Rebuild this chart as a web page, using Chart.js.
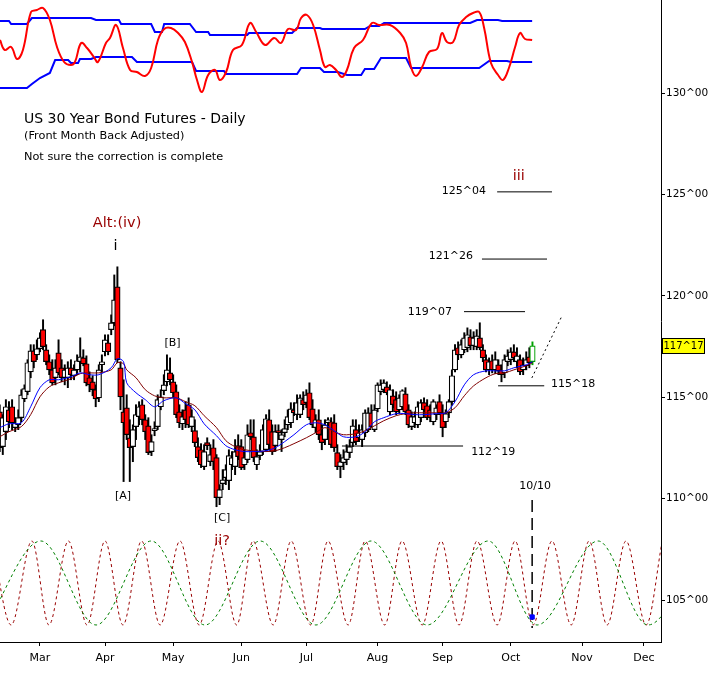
<!DOCTYPE html>
<html>
<head>
<meta charset="utf-8">
<title>US 30 Year Bond Futures - Daily</title>
<script src="https://cdn.jsdelivr.net/npm/chart.js@4.4.1/dist/chart.umd.min.js"></script>
<style>
  html, body { margin: 0; padding: 0; background: #fff; }
  canvas { display: block; }
</style>
</head>
<body>
<canvas id="bondChart" width="713" height="681"></canvas>
<script>
// x values are trading days (weekdays) counted from Mon 11 Feb
const firstDay = 2;

const opens = [
  114.28,112.56,113.30,114.38,114.53,113.50,113.64,113.99,114.92,115.27,
  116.25,117.29,117.09,117.39,118.33,117.34,116.75,116.35,115.96,117.19,
  116.45,115.96,115.96,116.45,116.06,116.35,116.75,116.94,116.65,115.96,
  115.76,115.37,114.97,116.60,117.24,117.68,118.33,118.67,120.44,116.45,
  114.28,114.48,113.00,112.56,113.55,114.04,114.63,113.89,113.59,112.32,
  113.35,113.55,114.53,115.32,115.76,116.20,115.76,115.27,114.28,113.69,
  114.38,114.63,113.55,113.35,112.56,112.41,111.58,112.76,111.82,112.51,
  112.02,110.05,110.74,111.03,110.89,111.67,111.58,112.61,112.56,111.67,
  111.92,113.25,113.05,111.67,112.12,112.32,112.41,113.89,113.30,112.61,
  113.35,112.91,113.25,113.64,113.74,114.38,114.14,114.14,114.88,114.73,
  115.22,114.43,113.50,113.89,113.15,112.91,113.74,113.79,113.74,112.27,
  111.58,111.77,111.92,112.27,112.76,113.40,113.00,112.91,113.25,113.40,
  114.23,113.40,114.43,115.27,115.37,115.51,114.28,115.07,114.88,114.38,
  114.53,115.17,114.38,113.55,113.74,113.64,113.99,114.73,114.58,114.38,
  113.79,114.14,114.78,114.23,113.79,114.23,114.78,116.35,117.44,117.09,
  117.34,117.44,117.98,117.54,117.49,117.93,117.34,116.85,116.35,116.80,
  116.35,116.60,116.35,116.20,116.75,116.85,117.24,116.75,116.85,116.35,
  116.55,116.99,116.75
];
const highs = [
  114.63,114.14,114.88,114.78,114.88,113.99,114.38,115.37,115.61,116.85,
  117.59,117.59,117.83,118.18,118.82,117.59,117.09,116.85,116.85,117.83,
  116.85,116.60,116.75,116.85,116.60,117.09,117.93,117.34,117.04,116.25,
  116.06,115.61,116.60,117.09,118.08,118.08,119.06,121.03,121.43,116.75,
  115.86,115.12,113.89,113.64,114.63,114.78,114.88,114.14,113.99,113.15,
  113.79,115.12,115.37,116.11,117.09,116.94,116.11,115.61,114.63,114.38,
  114.78,114.97,114.38,113.89,113.00,112.71,112.66,113.00,112.66,112.91,
  112.17,110.69,111.43,111.67,112.41,112.32,112.91,113.15,112.91,112.41,
  113.64,113.89,113.89,112.41,112.66,113.64,114.14,114.38,113.64,113.64,
  113.64,113.40,113.89,114.38,114.73,114.73,115.12,115.12,115.27,115.37,
  115.71,114.88,114.14,114.38,113.64,113.89,113.99,113.99,114.14,112.66,
  112.17,112.41,112.66,112.91,113.89,113.89,113.64,113.64,114.38,114.48,
  114.63,114.63,115.71,115.86,115.86,115.76,115.61,115.37,115.27,115.12,
  115.37,115.47,114.63,114.28,114.28,114.78,114.88,114.97,114.88,114.63,
  114.88,114.63,115.12,114.63,114.38,114.88,116.35,117.59,117.73,117.83,
  118.18,118.42,118.33,118.23,118.33,118.67,117.59,117.09,116.94,117.09,
  117.24,116.85,116.60,117.09,117.34,117.44,117.59,117.44,117.09,116.94,
  117.24,117.44,117.73
];
const lows = [
  112.32,112.17,112.91,113.50,113.40,113.30,113.40,113.79,114.78,115.12,
  115.96,116.45,116.85,117.24,117.34,116.60,116.11,115.61,115.61,116.11,
  115.76,115.61,115.47,115.86,115.86,116.11,116.25,116.55,115.56,115.27,
  115.07,114.53,114.78,116.25,117.04,117.09,118.08,118.52,116.70,114.38,
  110.84,112.91,110.84,111.82,112.91,113.64,113.64,112.91,112.17,112.12,
  113.10,113.40,114.38,115.12,115.56,115.61,114.97,113.99,113.50,113.40,
  113.50,113.50,113.30,112.56,111.82,111.53,111.43,112.41,111.62,111.43,
  109.60,109.70,110.44,110.69,110.44,111.43,111.18,111.92,111.43,111.43,
  111.77,112.91,111.82,111.43,111.92,112.17,112.32,112.41,112.17,112.32,
  112.91,112.32,113.05,113.40,113.50,114.09,113.89,113.99,114.38,114.48,
  113.89,113.50,113.25,112.91,112.41,112.66,113.50,112.51,112.32,111.43,
  111.03,111.43,111.67,112.02,112.56,112.66,112.81,112.56,113.05,113.30,
  113.50,113.30,114.28,115.12,115.22,115.12,114.14,114.48,114.14,114.19,
  114.38,114.14,113.50,113.40,113.50,113.50,113.79,114.28,113.89,113.79,
  113.64,113.89,114.14,113.05,113.50,113.99,114.63,116.25,116.85,116.94,
  117.19,117.24,117.34,117.34,117.34,117.34,116.75,116.25,116.11,116.20,
  116.16,116.11,115.76,115.96,116.55,116.60,116.75,116.45,116.11,116.11,
  116.35,116.45,116.60
];
const closes = [
  112.51,113.99,114.53,113.79,113.74,113.74,113.99,115.12,115.42,116.70,
  117.29,116.75,117.39,117.93,117.49,116.75,116.35,115.71,116.45,116.20,
  115.96,116.35,116.45,116.11,116.35,116.80,116.99,116.65,115.71,115.61,
  115.37,114.92,116.35,116.75,117.83,117.24,118.67,119.80,116.85,115.02,
  113.74,113.15,112.51,113.40,114.14,114.53,113.89,113.30,112.27,112.81,
  113.45,114.88,115.02,115.61,116.35,115.86,115.22,114.14,113.74,114.04,
  113.89,113.64,114.04,112.76,112.02,111.67,112.32,112.61,112.17,111.82,
  110.05,110.44,110.93,111.43,112.12,112.02,112.32,112.07,111.53,112.02,
  113.15,113.05,112.02,112.07,112.32,113.40,113.94,112.66,112.32,113.30,
  113.25,113.15,113.45,114.04,114.43,114.23,114.73,114.97,114.63,115.12,
  113.99,113.64,113.89,113.15,112.76,113.64,113.89,112.66,112.51,111.58,
  111.82,112.02,112.32,112.56,113.59,112.81,113.25,113.40,114.23,114.23,
  113.55,114.38,115.61,115.61,115.71,115.22,115.37,114.63,114.28,114.97,
  115.32,114.28,113.64,114.04,114.04,114.53,114.73,114.38,113.99,113.99,
  114.78,114.48,114.23,113.50,114.19,114.78,116.06,117.34,117.09,117.59,
  117.93,118.08,117.54,117.93,118.03,117.44,116.94,116.35,116.75,116.35,
  116.85,116.30,116.11,116.85,117.04,117.24,116.94,117.04,116.25,116.60,
  116.85,116.70,117.53
];

// moving averages
const maDays = [2,5,9,12,15,18,21,25,28,31,34,38,40,42,43,46,49,52,55,59,
  62,65,68,72,75,78,81,84,88,91,94,97,101,104,107,110,113,117,120,123,
  126,130,133,136,139,143,146,149,152,155,159,162,165,168,172,174];
const maFast = [113.50,113.69,113.74,114.53,115.47,115.86,115.86,116.01,116.20,116.11,
  116.11,116.45,116.90,116.75,115.71,115.22,114.88,114.53,114.83,114.97,
  114.68,114.38,113.69,113.10,112.61,112.41,112.32,112.32,112.36,112.51,
  112.81,113.15,113.64,113.74,113.64,113.35,113.05,113.05,113.30,113.79,
  113.99,114.19,114.19,114.14,114.14,114.19,114.23,114.78,115.61,116.11,
  116.30,116.30,116.30,116.45,116.60,116.75];
const maSlow = [113.05,113.30,113.55,114.14,115.02,115.51,115.71,115.91,116.16,116.20,
  116.20,116.35,116.70,116.65,116.35,115.96,115.37,115.07,114.97,114.97,
  114.78,114.58,114.09,113.50,112.86,112.56,112.41,112.36,112.32,112.36,
  112.51,112.71,113.00,113.25,113.50,113.30,113.15,113.20,113.35,113.59,
  113.84,114.09,114.19,114.23,114.23,114.23,114.23,114.48,115.07,115.56,
  115.96,116.16,116.20,116.35,116.55,116.70];

// oscillator panel (top)
const oscDays = [2.1,3.6,5.7,7.6,9.5,12.1,14.0,16.0,18.2,20.5,
  22.8,25.0,26.3,28.3,30.2,32.4,33.7,36.3,37.6,39.6,
  41.8,44.1,46.3,48.9,50.9,53.1,55.1,57.3,59.6,61.8,
  64.1,65.7,67.3,69.3,71.5,73.1,75.1,77.3,80.2,82.8,
  84.8,87.7,90.6,92.8,95.1,97.7,99.3,101.2,103.2,105.4,
  107.0,108.6,110.6,112.5,114.1,116.4,119.3,122.2,124.5,128.0,
  131.3,133.2,134.8,136.4,138.4,140.6,143.2,144.8,146.4,148.4,
  150.3,152.6,154.8,156.8,158.4,160.6,162.9,164.5,166.4,168.4,
  170.0,171.6,173.9];
const oscValues = [60,50,53,41,50,88,90,92,80,53,
  38,35,38,57,52,43,38,57,62,75,
  52,30,28,24,32,60,71,72,67,58,
  38,20,8,25,30,20,28,50,55,77,
  68,55,62,57,71,70,82,85,75,50,
  33,35,30,23,30,52,60,77,75,75,
  67,57,33,24,33,48,51,67,58,58,
  75,83,87,88,72,37,25,20,32,53,
  67,61,60];
const upperDays = [2.1,5.0,5.7,10.8,12.4,31.5,33.1,40.5,41.2,50.9,52.1,54.4,55.1,63.4,65.4,69.3,
  69.9,81.9,82.5,96.4,98.0,105.4,106.1,119.9,121.6,124.5,126.1,153.9,156.1,162.9,164.2,173.9];
const upperBand = [79,79,76,76,82,82,80,80,76,76,68,68,76,76,68,68,
  65,65,67,67,72,72,71,71,74,74,77,77,80,80,79,79];
const lowerDays = [2.1,10.8,12.4,15.0,18.2,19.9,24.1,25.0,27.3,27.9,31.5,33.1,44.7,46.3,64.1,65.4,74.4,75.1,
  98.0,99.3,105.4,106.7,111.2,114.1,118.7,119.9,122.9,125.1,133.2,134.8,156.8,160.0,165.8,167.1,173.9];
const lowerBand = [12,12,16,22,27,40,40,37,37,41,41,43,43,38,38,29,29,26,
  26,32,32,28,28,25,25,31,31,42,42,32,32,39,39,38,38];

// cycle panel (bottom): turning points
const fastCycleDays = [-0.5,5.7,12.4,17.9,24.2,30.2,36.0,41.8,47.8,53.8,60.2,66.4,72.5,78.5,83.8,90.3,
  96.1,102.4,108.0,114.5,120.0,126.3,131.9,138.4,144.5,150.3,156.1,162.6,168.4,174.2,180.3,186.5,
  192.3,198.1,204.2,210.7,215.9];
const fastCycle = [1,-1,1,-1,1,-1,1,-1,1,-1,1,-1,1,-1,1,-1,1,-1,1,-1,1,-1,1,-1,1,-1,1,-1,1,-1,1,-1,1,-1,1,-1,1];
const slowCycleDays = [-2.4,15.3,33.1,50.9,68.3,86.1,104.1,121.9,140.0,159.7,175.5,195.2,211.3,229.1];
const slowCycle = [-1,1,-1,1,-1,1,-1,1,-1,1,-1,1,-1,1];

// price targets
const levelPrices = [125.125, 121.8125, 119.21875, 115.5625, 112.59375];
const levelFrom = [162.6, 157.7, 151.9, 162.9, 112.5];
const levelTo = [180.3, 178.7, 171.6, 177.8, 151.6];
const projDays = [173.8, 183.5];
const projPrices = [115.95, 119.00];
const markerDay = 173.9;
const markerPrices = [109.93, 103.62];
const markerCycle = -0.81;

const monthDays = [15, 36, 58, 80, 101, 124, 145, 167, 190, 210];
const monthNames = ['Mar', 'Apr', 'May', 'Jun', 'Jul', 'Aug', 'Sep', 'Oct', 'Nov', 'Dec'];
const priceTicks = [105, 110, 115, 120, 125, 130];

function fmt32(v) {
  const whole = Math.floor(v);
  const t = Math.round((v - whole) * 32);
  return whole + '^' + String(t).padStart(2, '0');
}
function pts(xs, ys) {
  return xs.map((x, i) => ({ x: x, y: ys[i] }));
}

const notes = [
  ['US 30 Year Bond Futures - Daily', 9.85, 128.70, 'title'],
  ['(Front Month Back Adjusted)', 9.85, 127.88, 'sub'],
  ['Not sure the correction is complete', 9.85, 126.85, 'sub'],
  ['Alt:(iv)', 39.9, 123.59, 'wave'],
  ['i', 39.4, 122.42, 'waveBlack'],
  ['[B]', 57.8, 117.66, 'mark'],
  ['[A]', 41.8, 110.13, 'mark'],
  ['[C]', 73.8, 109.06, 'mark'],
  ['ii?', 73.8, 107.91, 'wave'],
  ['iii', 169.6, 125.91, 'wave'],
  [fmt32(levelPrices[0]), 159.0, 125.17, 'levelLeft'],
  [fmt32(levelPrices[1]), 154.8, 121.96, 'levelLeft'],
  [fmt32(levelPrices[2]), 148.05, 119.20, 'levelLeft'],
  [fmt32(levelPrices[3]), 180.0, 115.65, 'levelRight'],
  [fmt32(levelPrices[4]), 154.2, 112.30, 'levelRight'],
  ['10/10', 174.85, 110.62, 'mark']
];
const noteStyles = {
  title: { size: 14, color: '#000', align: 'left' },
  sub: { size: 11.3, color: '#000', align: 'left' },
  wave: { size: 14.5, color: '#990000', align: 'center' },
  waveBlack: { size: 14.5, color: '#000', align: 'center' },
  mark: { size: 11, color: '#000', align: 'center' },
  levelLeft: { size: 11, color: '#000', align: 'right' },
  levelRight: { size: 11, color: '#000', align: 'left' }
};

const notesPlugin = {
  id: 'notes',
  afterDatasetsDraw(chart) {
    const ctx = chart.ctx;
    const x = chart.scales.x, y = chart.scales.price;
    ctx.save();
    ctx.textBaseline = 'middle';
    notes.forEach(n => {
      const st = noteStyles[n[3]];
      ctx.font = st.size + 'px "DejaVu Sans"';
      ctx.fillStyle = st.color;
      ctx.textAlign = st.align;
      ctx.fillText(n[0], x.getPixelForValue(n[1]), y.getPixelForValue(n[2]));
    });
    ctx.restore();
  },
  afterDraw(chart) {
    // last price box on the axis
    const ctx = chart.ctx;
    const last = closes[closes.length - 1];
    const py = Math.round(chart.scales.price.getPixelForValue(last));
    const left = chart.chartArea.right + 1;
    ctx.save();
    ctx.fillStyle = '#ffff00';
    ctx.fillRect(left, py - 8, 43, 16);
    ctx.strokeStyle = '#000';
    ctx.lineWidth = 1;
    ctx.strokeRect(left + 0.5, py - 7.5, 42, 15);
    ctx.fillStyle = '#000';
    ctx.font = '10px "DejaVu Sans"';
    ctx.textAlign = 'center';
    ctx.textBaseline = 'middle';
    ctx.fillText(fmt32(last), left + 21.5, py + 0.5);
    ctx.restore();
  }
};

const days = opens.map((_, i) => firstDay + i);
const lastIndex = closes.length - 1;
const candleEdge = days.map((d, i) => i === lastIndex ? '#00a000' : '#000000');
const candleFill = days.map((d, i) => closes[i] < opens[i] ? '#ff0000' : '#ffffff');

const datasets = [
  { type: 'line', label: 'slow cycle', data: pts(slowCycleDays, slowCycle), yAxisID: 'cyc',
    borderColor: '#008000', borderWidth: 1, borderDash: [3, 3], pointRadius: 0,
    cubicInterpolationMode: 'monotone', order: 20 },
  { type: 'line', label: 'fast cycle', data: pts(fastCycleDays, fastCycle), yAxisID: 'cyc',
    borderColor: '#990000', borderWidth: 1, borderDash: [3, 3], pointRadius: 0,
    cubicInterpolationMode: 'monotone', order: 20 },
  { type: 'line', label: 'upper band', data: pts(upperDays, upperBand), yAxisID: 'osc',
    borderColor: '#0000ff', borderWidth: 2, pointRadius: 0, order: 19 },
  { type: 'line', label: 'lower band', data: pts(lowerDays, lowerBand), yAxisID: 'osc',
    borderColor: '#0000ff', borderWidth: 2, pointRadius: 0, order: 19 },
  { type: 'line', label: 'oscillator', data: pts(oscDays, oscValues), yAxisID: 'osc',
    borderColor: '#ff0000', borderWidth: 2, pointRadius: 0, tension: 0.4, order: 18 },
  { type: 'bar', label: 'range', data: days.map((d, i) => ({ x: d, y: [lows[i], highs[i]] })), yAxisID: 'price',
    backgroundColor: candleEdge, barThickness: 1.3, grouped: false, order: 12 },
  { type: 'bar', label: 'body', data: days.map((d, i) => ({ x: d, y: [opens[i], closes[i]] })), yAxisID: 'price',
    backgroundColor: candleFill, borderColor: candleEdge, borderWidth: 1.2, borderSkipped: false,
    barThickness: 5.5, grouped: false, order: 11 },
  { type: 'line', label: 'slow avg', data: pts(maDays, maSlow), yAxisID: 'price',
    borderColor: '#800000', borderWidth: 1, pointRadius: 0, tension: 0.3, order: 8 },
  { type: 'line', label: 'fast avg', data: pts(maDays, maFast), yAxisID: 'price',
    borderColor: '#0000ff', borderWidth: 1, pointRadius: 0, tension: 0.3, order: 7 },
  { type: 'line', label: 'projection', data: pts(projDays, projPrices), yAxisID: 'price',
    borderColor: '#000', borderWidth: 1, borderDash: [2, 3], pointRadius: 0, order: 5 },
  { type: 'line', label: 'date marker', data: pts([markerDay, markerDay], markerPrices), yAxisID: 'price',
    borderColor: '#000', borderWidth: 1.5, borderDash: [12, 6], pointRadius: 0, order: 5 },
  { type: 'line', label: 'cycle marker', data: [{ x: markerDay, y: markerCycle }], yAxisID: 'cyc',
    showLine: false, pointRadius: 3, pointStyle: 'rect', backgroundColor: '#0000ff',
    borderColor: '#0000ff', order: 4 }
];
levelPrices.forEach((p, i) => {
  datasets.push({ type: 'line', label: 'level ' + i, data: pts([levelFrom[i], levelTo[i]], [p, p]),
    yAxisID: 'price', borderColor: '#000', borderWidth: 1, pointRadius: 0, order: 5 });
});

const axisFont = { family: 'DejaVu Sans', size: 11 };

new Chart(document.getElementById('bondChart'), {
  type: 'line',
  data: { datasets: datasets },
  options: {
    responsive: false,
    animation: false,
    layout: { padding: 0, autoPadding: false },
    plugins: { legend: { display: false }, tooltip: { enabled: false } },
    scales: {
      x: {
        type: 'linear', min: 2.1, max: 215.5, offset: false,
        afterBuildTicks: s => { s.ticks = monthDays.map(v => ({ value: v })); },
        afterFit: s => { s.height = 39; s.paddingLeft = 0; s.paddingRight = 0; },
        ticks: {
          autoSkip: false, maxRotation: 0, padding: 6, color: '#000', font: axisFont,
          callback: v => monthNames[monthDays.indexOf(v)] || ''
        },
        grid: { drawOnChartArea: false, drawTicks: true, tickLength: 4, color: '#000', offset: false },
        border: { display: true, color: '#000', width: 1 }
      },
      price: {
        type: 'linear', position: 'right', min: 102.93, max: 134.586,
        afterBuildTicks: s => { s.ticks = priceTicks.map(v => ({ value: v })); },
        afterFit: s => { s.width = 52; s.paddingTop = 0; s.paddingBottom = 0; },
        ticks: {
          padding: 1, color: '#000', font: { family: 'DejaVu Sans', size: 10.5 },
          callback: v => v + '^00'
        },
        grid: { drawOnChartArea: false, drawTicks: true, tickLength: 4, color: '#000' },
        border: { display: true, color: '#000', width: 1 }
      },
      osc: { type: 'linear', display: false, min: -542, max: 100 },
      cyc: { type: 'linear', display: false, min: -1.405, max: 13.881 }
    }
  },
  plugins: [notesPlugin]
});
</script>
</body>
</html>
